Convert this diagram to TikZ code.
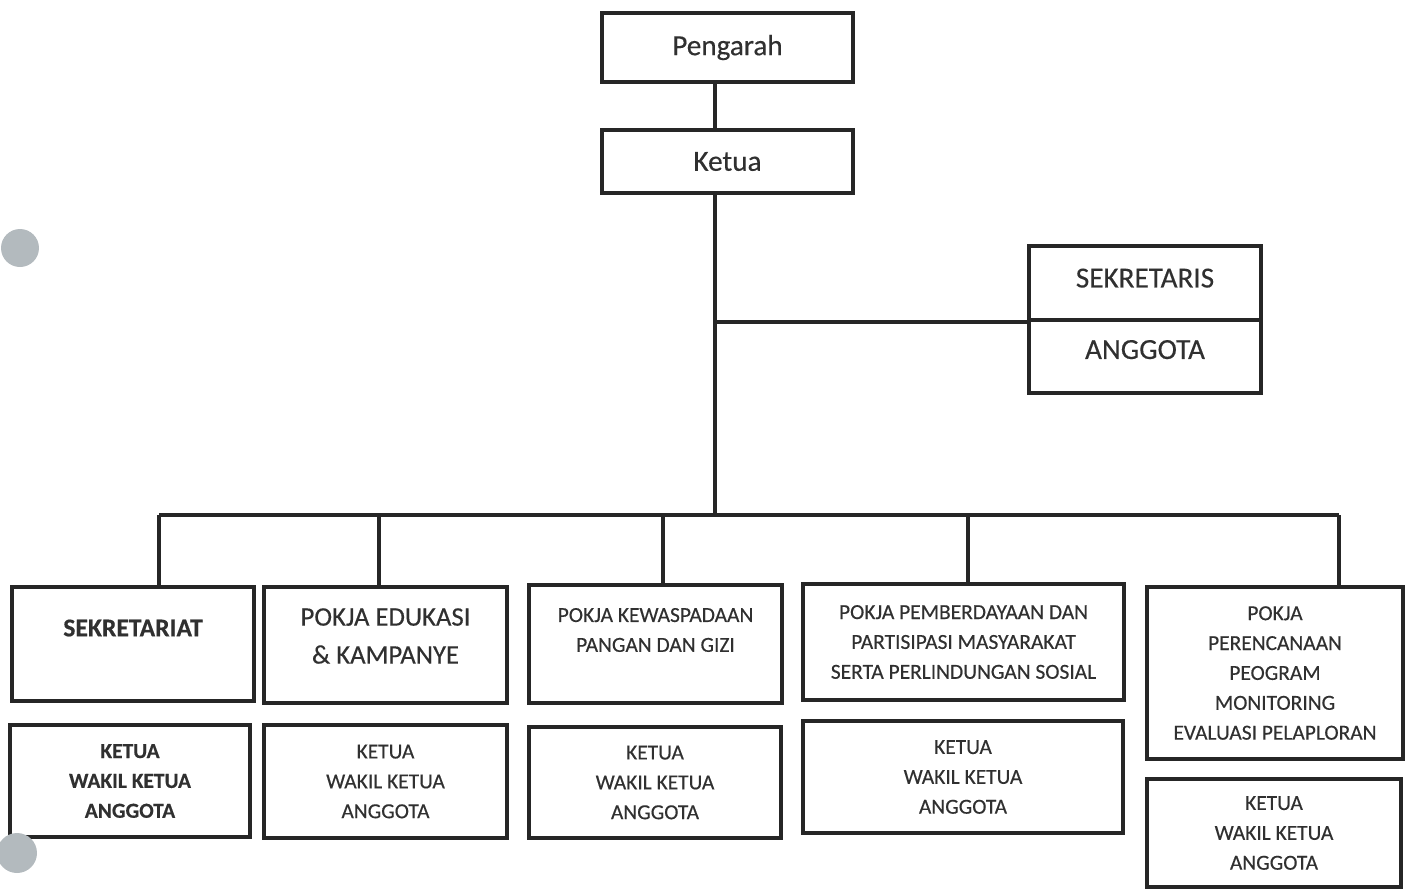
\documentclass[tikz,border=0pt]{standalone}
\usepackage{fontspec}
\setmainfont{Carlito}[FakeBold=0.35]
\usetikzlibrary{positioning}
\definecolor{ink}{HTML}{262626}
\definecolor{txt}{HTML}{303030}
\definecolor{hole}{HTML}{B3BABE}

\begin{document}
\begin{tikzpicture}[x=0.1mm,y=-0.1mm,
         unit/.style = {draw=ink,line width=1.2pt,inner sep=0pt,text=txt,align=center},
         plain/.style = {inner sep=0pt,text=txt,align=center},
         big/.style = {font=\fontsize{8.3}{10}\selectfont},
         mid/.style = {font=\fontsize{7.6}{10.8}\selectfont},
         small/.style = {font=\fontsize{6.1}{8.5}\selectfont},
         link/.style = {draw=ink,line width=1.2pt}
]
   \useasboundingbox (0,0) rectangle (1407,890);

   % top of the chart
   \node[unit,big,minimum width=25.1mm,minimum height=6.9mm] (peng) at (727.5,47.5) {Pengarah};
   \node[unit,big,minimum width=25.1mm,minimum height=6.3mm] (ketua) at (727.5,161.5) {Ketua};
   \node[unit,big,text depth=1mm,minimum width=23.2mm,minimum height=7.4mm] (sekr) at (1145,283) {SEKRETARIS};
   \node[unit,big,text depth=1.4mm,minimum width=23.2mm,minimum height=7.3mm] (angg) at (1145,356.5) {ANGGOTA};

   \coordinate (spine) at (715,515);
   \coordinate (j1) at (159,515);
   \coordinate (j2) at (379,515);
   \coordinate (j3) at (663,515);
   \coordinate (j4) at (968,515);
   \coordinate (j5) at (1339,515);

   % pokja boxes
   \node[unit,minimum width=24.2mm,minimum height=11.4mm] (b1) at (133,644) {};
   \node[unit,minimum width=24.3mm,minimum height=11.6mm] (b2) at (385.5,645) {};
   \node[unit,minimum width=25.3mm,minimum height=11.8mm] (b3) at (655.5,644) {};
   \node[unit,small,minimum width=32.1mm,minimum height=11.6mm] (b4) at (963.5,642)
      {POKJA PEMBERDAYAAN DAN\\PARTISIPASI MASYARAKAT\\SERTA PERLINDUNGAN SOSIAL};
   \node[unit,small,minimum width=25.6mm,minimum height=17.2mm] (b5) at (1275,673)
      {POKJA\\PERENCANAAN\\PEOGRAM\\MONITORING\\EVALUASI PELAPLORAN};

   \node[plain,font=\fontsize{7.3}{10}\selectfont\bfseries] (t1) at (133,628) {SEKRETARIAT};
   \node[plain,mid] (t2) at (385.5,636) {POKJA EDUKASI\\\& KAMPANYE};
   \node[plain,small] (t3) at (655.5,630) {POKJA KEWASPADAAN\\PANGAN DAN GIZI};

   % members
   \node[unit,small,font=\fontsize{6.1}{8.5}\selectfont\bfseries,minimum width=24.0mm,minimum height=11.2mm] (s1) at (130,781)
      {KETUA\\WAKIL KETUA\\ANGGOTA};
   \node[unit,small,minimum width=24.3mm,minimum height=11.3mm] (s2) at (385.5,781.5)
      {KETUA\\WAKIL KETUA\\ANGGOTA};
   \node[unit,small,minimum width=25.2mm,minimum height=11.1mm] (s3) at (655,782.5)
      {KETUA\\WAKIL KETUA\\ANGGOTA};
   \node[unit,small,minimum width=32.0mm,minimum height=11.2mm] (s4) at (963,777)
      {KETUA\\WAKIL KETUA\\ANGGOTA};
   \node[unit,small,minimum width=25.4mm,minimum height=10.8mm] (s5) at (1274,833)
      {KETUA\\WAKIL KETUA\\ANGGOTA};

   % lines
   \draw[link] (peng.south -| spine) -- (ketua.north -| spine);
   \draw[link] (ketua.south -| spine) -- (spine);
   \draw[link] (sekr.south west -| spine) -- (sekr.south west);
   \draw[link] (j1) -- (j5);
   \draw[link] (j1) -- (j1 |- b1.north);
   \draw[link] (j2) -- (j2 |- b2.north);
   \draw[link] (j3) -- (j3 |- b3.north);
   \draw[link] (j4) -- (j4 |- b4.north);
   \draw[link] (j5) -- (j5 |- b5.north);

   % punch holes of the scan
   \fill[hole] (20,248) circle (1.9mm);
   \fill[hole] (17,853) circle (2mm);
\end{tikzpicture}
\end{document}
